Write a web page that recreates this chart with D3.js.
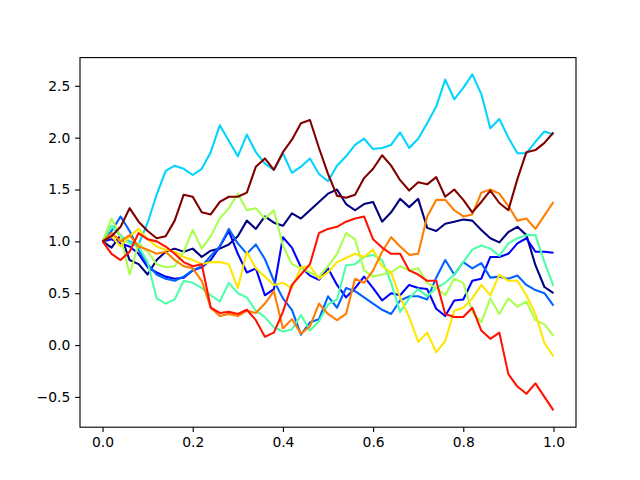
<!DOCTYPE html>
<html>
<head>
<meta charset="utf-8">
<script src="https://cdn.jsdelivr.net/npm/d3@7"></script>
<style>
  body { margin: 0; background: #fff; }
  svg text { font-family: "DejaVu Sans", sans-serif; }
</style>
</head>
<body>
<div id="chart"></div>
<script>
// time steps shared by every walk (every second sample of the 0..1 grid)
const t = d3.range(51).map(i => i / 50);

// walks, in jet colour order
const navy = [1.00, 0.94, 1.06, 0.82, 0.78, 0.68, 0.82, 0.90, 0.93, 0.90,
  0.93, 0.85, 0.91, 0.93, 0.97, 1.05, 1.20, 1.12, 1.24, 1.18,
  1.15, 1.27, 1.22, 1.30, 1.38, 1.46, 1.50, 1.36, 1.30, 1.36,
  1.38, 1.19, 1.28, 1.41, 1.33, 1.41, 1.13, 1.10, 1.17, 1.19,
  1.21, 1.20, 1.11, 1.03, 0.99, 1.09, 1.14, 1.06, 0.77, 0.56,
  0.50];
const blue = [1.00, 1.02, 0.98, 0.95, 0.88, 0.75, 0.70, 0.66, 0.64, 0.65,
  0.72, 0.75, 0.82, 0.95, 1.10, 0.88, 0.70, 0.74, 0.48, 0.54,
  1.04, 0.94, 0.75, 0.67, 0.63, 0.74, 0.58, 0.46, 0.55, 0.66,
  0.55, 0.43, 0.50, 0.48, 0.58, 0.55, 0.54, 0.35, 0.28, 0.43,
  0.44, 0.62, 0.64, 0.85, 0.85, 0.88, 0.98, 1.03, 0.90, 0.90,
  0.89];
const azure = [1.00, 1.10, 1.24, 1.10, 0.92, 0.78, 0.68, 0.64, 0.62, 0.66,
  0.72, 0.76, 0.86, 0.95, 1.12, 0.98, 0.88, 0.97, 0.83, 0.62,
  0.45, 0.34, 0.10, 0.22, 0.25, 0.47, 0.36, 0.55, 0.52, 0.46,
  0.40, 0.34, 0.30, 0.43, 0.47, 0.47, 0.44, 0.65, 0.82, 0.68,
  0.80, 0.74, 0.79, 0.65, 0.66, 0.64, 0.67, 0.58, 0.53, 0.50,
  0.38];
const cyan = [1.00, 1.15, 1.05, 1.00, 0.97, 1.18, 1.45, 1.68, 1.73, 1.70,
  1.64, 1.70, 1.86, 2.12, 1.97, 1.82, 2.03, 1.86, 1.75, 1.69,
  1.85, 1.66, 1.72, 1.80, 1.65, 1.58, 1.73, 1.82, 1.93, 1.99,
  1.89, 1.90, 1.93, 2.05, 1.90, 1.99, 2.14, 2.30, 2.56, 2.37,
  2.48, 2.61, 2.42, 2.09, 2.18, 2.00, 1.85, 1.85, 1.96, 2.06,
  2.03];
const aqua = [1.00, 1.15, 1.05, 0.98, 0.95, 0.80, 0.45, 0.40, 0.44, 0.62,
  0.60, 0.55, 0.48, 0.42, 0.60, 0.50, 0.46, 0.33, 0.27, 0.17,
  0.13, 0.15, 0.29, 0.14, 0.23, 0.39, 0.44, 0.77, 0.78, 0.85,
  0.87, 0.82, 0.60, 0.32, 0.45, 0.54, 0.47, 0.55, 0.60, 0.68,
  0.80, 0.92, 0.96, 0.93, 0.86, 0.98, 1.03, 1.06, 1.06, 0.80,
  0.57];
const lime = [1.00, 1.22, 1.05, 0.68, 0.98, 0.90, 0.78, 0.75, 0.76, 0.90,
  1.11, 0.93, 1.05, 1.22, 1.32, 1.46, 1.30, 1.32, 1.22, 1.30,
  0.96, 0.78, 0.74, 0.70, 0.66, 0.76, 0.88, 1.08, 1.02, 0.72,
  0.66, 0.68, 0.70, 0.76, 0.72, 0.74, 0.60, 0.55, 0.48, 0.64,
  0.60, 0.32, 0.22, 0.45, 0.30, 0.45, 0.37, 0.42, 0.24, 0.20,
  0.09];
const yellow = [1.00, 1.05, 0.95, 1.05, 1.12, 1.02, 0.95, 0.92, 0.90, 0.85,
  0.82, 0.78, 0.80, 0.80, 0.78, 0.55, 0.90, 0.74, 0.66, 0.58,
  0.60, 0.55, 0.75, 0.76, 0.64, 0.70, 0.80, 0.84, 0.88, 0.85,
  0.92, 0.76, 0.70, 0.46, 0.27, 0.03, 0.12, -0.07, 0.04, 0.33,
  0.36, 0.45, 0.58, 0.48, 0.68, 0.62, 0.62, 0.48, 0.30, 0.02,
  -0.11];
const orange = [1.00, 1.08, 1.00, 1.06, 0.95, 0.92, 0.88, 0.90, 0.82, 0.76,
  0.74, 0.62, 0.36, 0.28, 0.30, 0.28, 0.33, 0.31, 0.40, 0.52,
  0.16, 0.25, 0.11, 0.18, 0.40, 0.30, 0.24, 0.30, 0.64, 0.60,
  0.72, 0.90, 1.04, 0.95, 0.87, 0.88, 1.24, 1.40, 1.40, 1.30,
  1.24, 1.26, 1.47, 1.50, 1.46, 1.34, 1.20, 1.22, 1.12, 1.25,
  1.38];
const red = [1.00, 0.88, 0.82, 0.90, 1.08, 1.02, 1.00, 0.95, 0.88, 0.80,
  0.76, 0.78, 0.36, 0.31, 0.32, 0.30, 0.34, 0.24, 0.08, 0.12,
  0.32, 0.58, 0.68, 0.78, 1.08, 1.12, 1.14, 1.19, 1.22, 1.24,
  1.02, 0.94, 0.88, 0.88, 0.72, 0.68, 0.62, 0.62, 0.30, 0.27,
  0.27, 0.36, 0.14, 0.06, 0.12, -0.28, -0.40, -0.47, -0.37, -0.50,
  -0.63];
const maroon = [1.00, 1.05, 1.14, 1.32, 1.19, 1.10, 1.03, 1.05, 1.20, 1.45,
  1.43, 1.28, 1.26, 1.38, 1.43, 1.43, 1.47, 1.72, 1.80, 1.69,
  1.86, 1.98, 2.14, 2.17, 1.90, 1.65, 1.44, 1.42, 1.45, 1.61,
  1.70, 1.83, 1.73, 1.59, 1.49, 1.57, 1.55, 1.62, 1.43, 1.50,
  1.40, 1.28, 1.38, 1.49, 1.37, 1.30, 1.60, 1.86, 1.88, 1.95,
  2.05];

const xTicks = [0, 0.2, 0.4, 0.6, 0.8, 1.0];
const yTicks = [-0.5, 0, 0.5, 1.0, 1.5, 2.0, 2.5];

const series = [navy, blue, azure, cyan, aqua, lime, yellow, orange, red, maroon];
// jet sampled at 10 evenly spaced points
const colors = ['#000080', '#0000ff', '#0063ff', '#00d4ff', '#4effa9',
                '#a9ff4e', '#ffe600', '#ff7d00', '#ff1400', '#800000'];

const width = 640, height = 480;
const margin = {top: 57.6, right: 64, bottom: 52.8, left: 80};
const pt = 100 / 72; // matplotlib points -> px at dpi 100

// matplotlib style 5% margins
function padded(ext){
  const d = (ext[1] - ext[0]) * 0.05;
  return [ext[0] - d, ext[1] + d];
}

const x = d3.scaleLinear()
  .domain(padded(d3.extent(t)))
  .range([margin.left, width - margin.right]);
const y = d3.scaleLinear()
  .domain(padded(d3.extent(series.flat())))
  .range([height - margin.bottom, margin.top]);

const svg = d3.select('#chart').append('svg')
  .attr('width', width)
  .attr('height', height);

svg.append('clipPath').attr('id', 'plot_clip')
  .append('rect')
  .attr('x', margin.left).attr('y', margin.top)
  .attr('width', width - margin.left - margin.right)
  .attr('height', height - margin.top - margin.bottom);

const line = d3.line()
  .x((d, i) => x(t[i]))
  .y(d => y(d));

svg.append('g')
  .attr('clip-path', 'url(#plot_clip)')
  .selectAll('path')
  .data(series)
  .join('path')
  .attr('d', line)
  .attr('fill', 'none')
  .attr('stroke', (d, i) => colors[i])
  .attr('stroke-width', 1.5 * pt)
  .attr('stroke-linejoin', 'round');

const fmt = d3.format('.1f');

const xAxis = svg.append('g')
  .attr('transform', `translate(0,${height - margin.bottom})`)
  .call(d3.axisBottom(x).tickValues(xTicks).tickFormat(fmt)
    .tickSize(3.5 * pt).tickPadding(3.5 * pt).tickSizeOuter(0));

const yAxis = svg.append('g')
  .attr('transform', `translate(${margin.left},0)`)
  .call(d3.axisLeft(y).tickValues(yTicks).tickFormat(fmt)
    .tickSize(3.5 * pt).tickPadding(3.5 * pt).tickSizeOuter(0));

[xAxis, yAxis].forEach(g => {
  g.select('.domain').remove();
  g.selectAll('line').attr('stroke', '#000').attr('stroke-width', 0.8 * pt);
  g.selectAll('text')
    .attr('fill', '#000')
    .attr('font-size', 10 * pt)
    .attr('font-family', '"DejaVu Sans", sans-serif');
});

// frame
svg.append('rect')
  .attr('x', margin.left).attr('y', margin.top)
  .attr('width', width - margin.left - margin.right)
  .attr('height', height - margin.top - margin.bottom)
  .attr('fill', 'none')
  .attr('stroke', '#000')
  .attr('stroke-width', 0.8 * pt);
</script>
</body>
</html>
